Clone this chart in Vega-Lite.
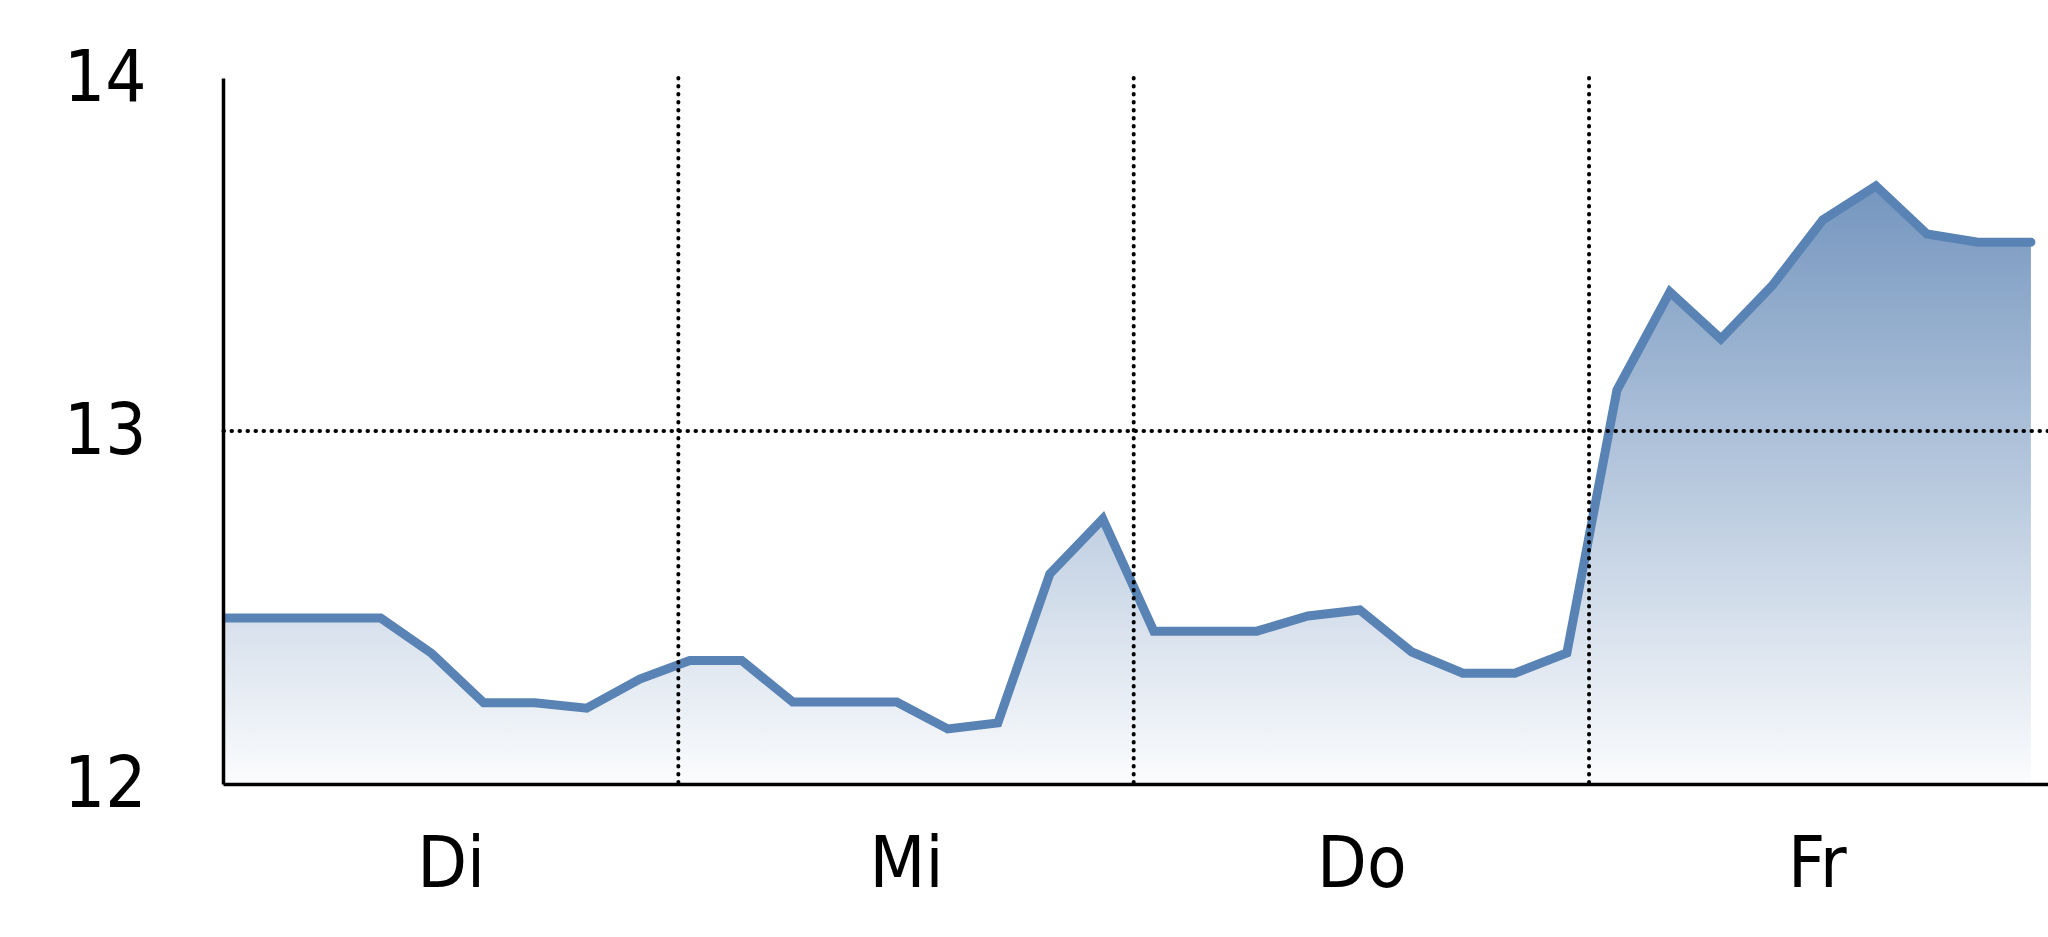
{
  "$schema": "https://vega.github.io/schema/vega-lite/v6.json",
  "width": 1825,
  "height": 706,
  "autosize": {"type": "none"},
  "padding": {"left": 223, "top": 78, "right": 0, "bottom": 153},
  "background": "white",
  "config": {"view": {"stroke": null}, "font": "DejaVu Sans Condensed, Liberation Sans, sans-serif"},
  "datasets": {
    "series": [
      {"t": 0, "v": 12.47},
      {"t": 2.83, "v": 12.47},
      {"t": 5.57, "v": 12.47},
      {"t": 8.31, "v": 12.47},
      {"t": 11.0, "v": 12.37},
      {"t": 13.74, "v": 12.23},
      {"t": 16.43, "v": 12.23},
      {"t": 19.17, "v": 12.215},
      {"t": 21.97, "v": 12.297},
      {"t": 24.6, "v": 12.35},
      {"t": 27.34, "v": 12.35},
      {"t": 30.03, "v": 12.232},
      {"t": 32.77, "v": 12.232},
      {"t": 35.51, "v": 12.232},
      {"t": 38.2, "v": 12.156},
      {"t": 40.84, "v": 12.173},
      {"t": 43.58, "v": 12.595},
      {"t": 46.37, "v": 12.751},
      {"t": 49.06, "v": 12.433},
      {"t": 51.75, "v": 12.433},
      {"t": 54.49, "v": 12.433},
      {"t": 57.18, "v": 12.476},
      {"t": 59.92, "v": 12.493},
      {"t": 62.66, "v": 12.374},
      {"t": 65.35, "v": 12.314},
      {"t": 68.09, "v": 12.314},
      {"t": 70.83, "v": 12.371},
      {"t": 73.47, "v": 13.116},
      {"t": 76.26, "v": 13.394},
      {"t": 78.95, "v": 13.261},
      {"t": 81.64, "v": 13.411},
      {"t": 84.32, "v": 13.598},
      {"t": 87.12, "v": 13.694},
      {"t": 89.81, "v": 13.558},
      {"t": 92.5, "v": 13.535},
      {"t": 95.29, "v": 13.535}
    ],
    "days": [{"t": 24}, {"t": 48}, {"t": 72}],
    "levels": [{"v": 13}]
  },
  "layer": [
    {
      "data": {"name": "series"},
      "mark": {
        "type": "area",
        "color": {
          "x1": 0, "y1": 0, "x2": 0, "y2": 1,
          "gradient": "linear",
          "stops": [
            {"offset": 0, "color": "#7596bf"},
            {"offset": 1, "color": "#fbfcfd"}
          ]
        }
      },
      "encoding": {
        "x": {
          "field": "t", "type": "quantitative",
          "scale": {"domain": [0, 96.19], "nice": false, "zero": false},
          "axis": {
            "values": [12, 36, 60, 84],
            "labelExpr": "datum.value == 12 ? 'Di' : datum.value == 36 ? 'Mi' : datum.value == 60 ? 'Do' : 'Fr'",
            "title": null, "grid": false, "ticks": false,
            "domain": true, "domainColor": "black", "domainWidth": 3.5,
            "labelFontSize": 72, "labelColor": "black", "labelPadding": 45,
            "labelFlush": false, "labelOverlap": false,
            "zindex": 2
          }
        },
        "y": {
          "field": "v", "type": "quantitative",
          "scale": {"domain": [12, 14], "nice": false, "zero": false},
          "axis": {
            "values": [12, 13, 14],
            "labelExpr": "datum.value == 12 ? '12' : datum.value == 13 ? '13' : '14'",
            "title": null, "grid": false, "ticks": false,
            "domain": true, "domainColor": "black", "domainWidth": 3.5,
            "labelFontSize": 72, "labelColor": "black", "labelPadding": 77,
            "labelOverlap": false, "labelFlush": false,
            "zindex": 2
          }
        },
        "y2": {"datum": 12}
      }
    },
    {
      "data": {"name": "series"},
      "mark": {"type": "line", "color": "#5983b4", "strokeWidth": 9, "strokeCap": "round", "strokeJoin": "miter", "clip": true},
      "encoding": {
        "x": {"field": "t", "type": "quantitative"},
        "y": {"field": "v", "type": "quantitative"}
      }
    },
    {
      "data": {"name": "days"},
      "mark": {"type": "rule", "color": "black", "strokeWidth": 4, "strokeDash": [0.5, 7.5], "strokeCap": "round"},
      "encoding": {
        "x": {"field": "t", "type": "quantitative"}
      }
    },
    {
      "data": {"name": "levels"},
      "mark": {"type": "rule", "color": "black", "strokeWidth": 4, "strokeDash": [0.5, 7.5], "strokeCap": "round"},
      "encoding": {
        "y": {"field": "v", "type": "quantitative"}
      }
    }
  ]
}
